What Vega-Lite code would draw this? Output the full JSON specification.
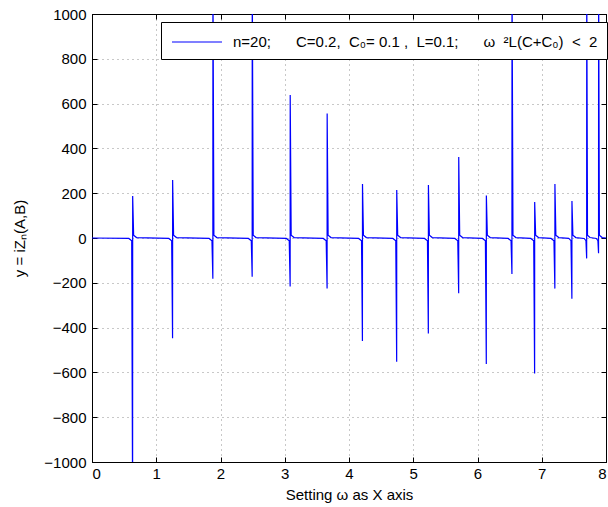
{
  "$schema": "https://vega.github.io/schema/vega-lite/v6.json",
  "width": 514,
  "height": 448,
  "autosize": "none",
  "padding": {"left": 92, "top": 14, "right": 2, "bottom": 45},
  "background": "white",
  "config": {
    "view": {"stroke": "black", "strokeWidth": 1},
    "axis": {
      "domainColor": "black", "tickColor": "black", "tickSize": -5,
      "labelFont": "Liberation Sans", "labelFontSize": 15, "labelColor": "black",
      "titleFont": "Liberation Sans", "titleFontSize": 15, "titleFontWeight": "normal", "titleColor": "black",
      "gridColor": "#777", "gridDash": [1, 4], "gridOpacity": 0.8
    },
    "legend": {
      "labelFont": "Liberation Sans", "labelFontSize": 15, "labelColor": "black", "labelLimit": 0
    }
  },
  "data": {"values": [
    {"w": 0, "y": 0},
    {"w": 0.573, "y": -2}, {"w": 0.618, "y": -12}, {"w": 0.632, "y": -1200}, {"w": 0.633, "y": 187}, {"w": 0.648, "y": 12}, {"w": 0.693, "y": 2},
    {"w": 1.195, "y": -2}, {"w": 1.24, "y": -12}, {"w": 1.254, "y": -448}, {"w": 1.255, "y": 259}, {"w": 1.27, "y": 12}, {"w": 1.315, "y": 2},
    {"w": 1.822, "y": -2}, {"w": 1.867, "y": -12}, {"w": 1.881, "y": -182}, {"w": 1.882, "y": 1200}, {"w": 1.897, "y": 12}, {"w": 1.942, "y": 2},
    {"w": 2.434, "y": -2}, {"w": 2.479, "y": -12}, {"w": 2.493, "y": -173}, {"w": 2.494, "y": 1200}, {"w": 2.509, "y": 12}, {"w": 2.554, "y": 2},
    {"w": 3.025, "y": -2}, {"w": 3.07, "y": -12}, {"w": 3.084, "y": -217}, {"w": 3.085, "y": 638}, {"w": 3.1, "y": 12}, {"w": 3.145, "y": 2},
    {"w": 3.6, "y": -2}, {"w": 3.645, "y": -12}, {"w": 3.659, "y": -225}, {"w": 3.66, "y": 556}, {"w": 3.675, "y": 12}, {"w": 3.72, "y": 2},
    {"w": 4.15, "y": -2}, {"w": 4.195, "y": -12}, {"w": 4.209, "y": -460}, {"w": 4.21, "y": 241}, {"w": 4.225, "y": 12}, {"w": 4.27, "y": 2},
    {"w": 4.683, "y": -2}, {"w": 4.728, "y": -12}, {"w": 4.742, "y": -552}, {"w": 4.743, "y": 214}, {"w": 4.758, "y": 12}, {"w": 4.803, "y": 2},
    {"w": 5.176, "y": -2}, {"w": 5.221, "y": -12}, {"w": 5.235, "y": -426}, {"w": 5.236, "y": 237}, {"w": 5.251, "y": 12}, {"w": 5.296, "y": 2},
    {"w": 5.648, "y": -2}, {"w": 5.693, "y": -12}, {"w": 5.707, "y": -247}, {"w": 5.708, "y": 362}, {"w": 5.723, "y": 12}, {"w": 5.768, "y": 2},
    {"w": 6.078, "y": -2}, {"w": 6.123, "y": -12}, {"w": 6.137, "y": -562}, {"w": 6.138, "y": 190}, {"w": 6.153, "y": 12}, {"w": 6.198, "y": 2},
    {"w": 6.477, "y": -2}, {"w": 6.522, "y": -12}, {"w": 6.536, "y": -161}, {"w": 6.537, "y": 1200}, {"w": 6.552, "y": 12}, {"w": 6.597, "y": 2},
    {"w": 6.83, "y": -2}, {"w": 6.875, "y": -12}, {"w": 6.889, "y": -605}, {"w": 6.89, "y": 161}, {"w": 6.905, "y": 12}, {"w": 6.95, "y": 2},
    {"w": 7.145, "y": -2}, {"w": 7.19, "y": -12}, {"w": 7.204, "y": -226}, {"w": 7.205, "y": 241}, {"w": 7.22, "y": 12}, {"w": 7.265, "y": 2},
    {"w": 7.42, "y": -2}, {"w": 7.455, "y": -12}, {"w": 7.469, "y": -271}, {"w": 7.47, "y": 165}, {"w": 7.485, "y": 12}, {"w": 7.53, "y": 2},
    {"w": 7.66, "y": -2}, {"w": 7.688, "y": -12}, {"w": 7.699, "y": -91}, {"w": 7.7, "y": 1200}, {"w": 7.712, "y": 12}, {"w": 7.75, "y": 2},
    {"w": 7.85, "y": -2}, {"w": 7.874, "y": -12}, {"w": 7.884, "y": -68}, {"w": 7.885, "y": 1200}, {"w": 7.897, "y": 12}, {"w": 7.94, "y": 2},
    {"w": 8, "y": 0}
  ]},
  "layer": [
    {
      "mark": {"type": "line", "clip": true, "strokeWidth": 1.2, "interpolate": "linear"},
      "encoding": {
        "x": {"field": "w", "type": "quantitative", "scale": {"domain": [0, 8], "nice": false, "zero": false},
          "axis": {"orient": "bottom", "values": [0, 1, 2, 3, 4, 5, 6, 7, 8], "title": "Setting ω as X axis", "labelPadding": 9, "titlePadding": 6, "grid": true}},
        "y": {"field": "y", "type": "quantitative", "scale": {"domain": [-1000, 1000], "nice": false, "zero": false},
          "axis": {"orient": "left", "format": "d", "values": [-1000, -800, -600, -400, -200, 0, 200, 400, 600, 800, 1000], "title": "y = iZₙ(A,B)", "labelPadding": 11, "titlePadding": 16, "grid": true}},
        "color": {
          "datum": "n=20;\u00a0\u00a0\u00a0\u00a0\u00a0 C=0.2,\u00a0 C₀= 0.1 ,\u00a0 L=0.1;\u00a0\u00a0\u00a0\u00a0\u00a0 ω\u00a0 ²L(C+C₀)\u00a0 <\u00a0 2",
          "type": "nominal",
          "scale": {"range": ["#0000ff"]},
          "legend": {
            "title": null, "orient": "none", "legendX": 69, "legendY": 8,
            "strokeColor": "black", "fillColor": "white", "padding": 9,
            "symbolType": "M-0.9,0H4.1", "symbolSize": 400, "symbolStrokeWidth": 1.2,
            "symbolFillColor": "transparent", "symbolStrokeColor": "#0000ff", "labelOffset": 41
          }
        }
      }
    },
    {
      "mark": {"type": "line", "strokeOpacity": 0},
      "encoding": {
        "x": {"field": "w", "type": "quantitative", "scale": {"domain": [0, 8], "nice": false, "zero": false},
          "axis": {"orient": "top", "values": [0, 1, 2, 3, 4, 5, 6, 7, 8], "labels": false, "title": null, "grid": false}},
        "y": {"field": "y", "type": "quantitative", "scale": {"domain": [-1000, 1000], "nice": false, "zero": false},
          "axis": {"orient": "right", "values": [-1000, -800, -600, -400, -200, 0, 200, 400, 600, 800, 1000], "labels": false, "title": null, "grid": false}}
      }
    }
  ],
  "resolve": {"axis": {"x": "independent", "y": "independent"}}
}
